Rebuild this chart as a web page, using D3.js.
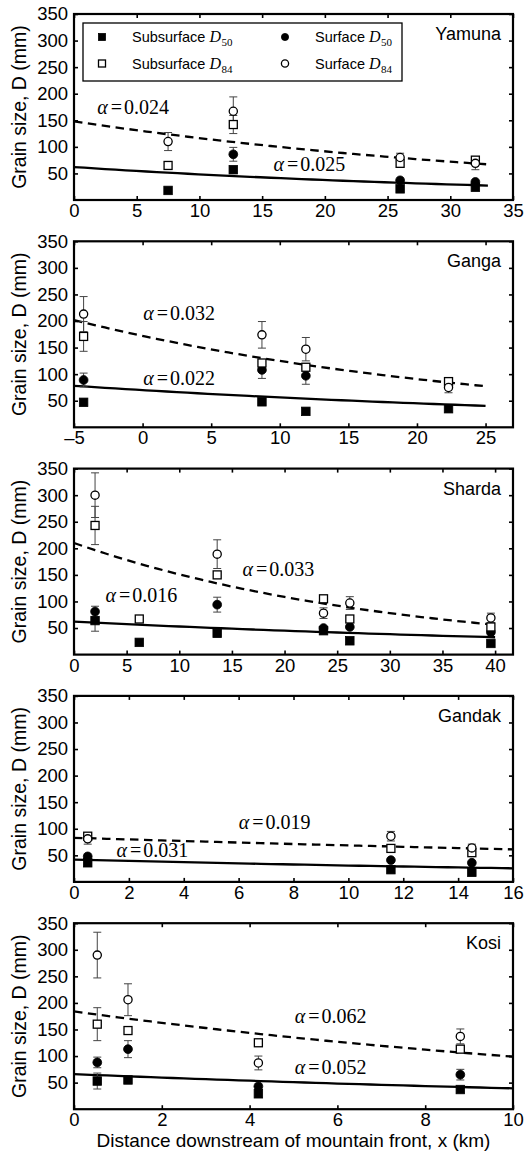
<!DOCTYPE html>
<html>
<head>
<meta charset="utf-8">
<title>Grain size downstream</title>
<script src="https://cdnjs.cloudflare.com/ajax/libs/d3/7.8.5/d3.min.js"></script>
<style>
  body { margin: 0; background: #fff; }
  svg text { font-family: "Liberation Sans", Arial, Helvetica, sans-serif; fill: #000; }
  svg text.math { font-family: "Liberation Serif", "Times New Roman", serif; }
</style>
</head>
<body>
<svg id="chart" width="527" height="1155"></svg>
<script>
// ---- data ----
var rivers = ["Yamuna", "Ganga", "Sharda", "Gandak", "Kosi"];
var xDomains = [[0, 35], [-5, 27], [0, 41.7], [0, 16], [0, 10]];
var xTicks = [
  [0, 5, 10, 15, 20, 25, 30, 35],
  [-5, 0, 5, 10, 15, 20, 25],
  [0, 5, 10, 15, 20, 25, 30, 35, 40],
  [0, 2, 4, 6, 8, 10, 12, 14, 16],
  [0, 2, 4, 6, 8, 10]
];
var yTicks = [50, 100, 150, 200, 250, 300, 350];

// sampling sites, distance from mountain front (km)
var siteX = [
  [7.5, 12.7, 26, 32],
  [-4.3, 8.7, 11.9, 22.3],
  [2, 6.2, 13.6, 23.7, 26.2, 39.6],
  [0.5, 11.55, 14.5],
  [0.53, 1.23, 4.2, 8.8]
];
// grain sizes (mm), null = no sample; *Err = half length of error bar
var subD50 = [
  [18, 57, 21, 24],
  [47, 48, 30, 35],
  [64, 23, 40, 45, 26, 21],
  [36, 23, 18],
  [53, 55, 29, 37]
];
var subD50Err = [
  [0, 0, 0, 0],
  [0, 0, 0, 0],
  [20, 0, 0, 0, 0, 0],
  [0, 0, 0],
  [15, 0, 0, 0]
];
var subD84 = [
  [65, 142, 69, 75],
  [171, 121, 113, 86],
  [243, 67, 150, 105, 67, 52],
  [86, 63, 55],
  [160, 148, 125, 113]
];
var subD84Err = [
  [0, 17, 0, 0],
  [28, 0, 0, 0],
  [36, 0, 0, 0, 0, 0],
  [0, 0, 0],
  [31, 0, 0, 0]
];
var surfD50 = [
  [null, 86, 37, 34],
  [89, 108, 97, null],
  [81, null, 94, 50, 52, 42],
  [48, 41, 36],
  [88, 113, 43, 65]
];
var surfD50Err = [
  [0, 13, 0, 0],
  [13, 16, 16, 0],
  [10, 0, 14, 0, 0, 0],
  [0, 0, 0],
  [10, 16, 0, 10]
];
var surfD84 = [
  [110, 167, 80, 69],
  [213, 174, 147, 75],
  [300, null, 189, 78, 97, 69],
  [81, 86, 64],
  [290, 206, 87, 137]
];
var surfD84Err = [
  [17, 27, 8, 12],
  [33, 25, 22, 10],
  [42, 0, 27, 10, 12, 9],
  [10, 9, 7],
  [43, 30, 13, 14]
];

// exponential fits D = D0 exp(-alpha x)
var fitRange = [[0, 33], [-5, 25], [0, 40], [0, 16], [0, 10]];
var fitD50D0 = [62, 70, 62, 42, 66];
var fitD50Alpha = [0.025, 0.022, 0.016, 0.031, 0.052];
var fitD84D0 = [148, 172, 210, 83, 184];
var fitD84Alpha = [0.024, 0.032, 0.033, 0.019, 0.062];
// where the alpha labels sit (data units: x start, y baseline)
var labelD50At = [[15.9, 55], [0.05, 80], [3.0, 99], [1.55, 46], [5.03, 66]];
var labelD84At = [[1.85, 162], [0.05, 202], [16.0, 148], [6.0, 100], [5.03, 162]];

// ---- layout ----
var svg = d3.select("#chart");
svg.append("rect").attr("width", 527).attr("height", 1155).attr("fill", "#fff");

var left = 74, plotW = 439, plotH = 186;
var top0 = 14, step = 227.3;

function drawSquare(g, cx, cy, s, filled) {
  g.append("rect")
    .attr("x", cx - s / 2).attr("y", cy - s / 2)
    .attr("width", s).attr("height", s)
    .attr("fill", filled ? "#000" : "#fff")
    .attr("stroke", "#000").attr("stroke-width", filled ? 0.8 : 1.3);
}
function drawCircle(g, cx, cy, r, filled) {
  g.append("circle")
    .attr("cx", cx).attr("cy", cy).attr("r", r)
    .attr("fill", filled ? "#000" : "#fff")
    .attr("stroke", "#000").attr("stroke-width", filled ? 0.8 : 1.3);
}

// alpha = value label, LaTeX look
function alphaLabel(g, x, y, val) {
  var t = g.append("text").attr("class", "math")
    .attr("x", x).attr("y", y)
    .style("font-size", "20px");
  t.append("tspan").style("font-style", "italic").text("\u03b1");
  t.append("tspan").attr("dx", 3).text("=");
  t.append("tspan").attr("dx", 2).text(val.toFixed(3));
}

rivers.forEach(function(name, i) {
  var top = top0 + i * step;
  var g = svg.append("g").attr("transform", "translate(" + left + "," + top + ")");

  var x = d3.scaleLinear().domain(xDomains[i]).range([0, plotW]);
  var y = d3.scaleLinear().domain([0, 350]).range([plotH, 0]);

  // fitted curves
  var lineGen = d3.line().x(function(d) { return x(d[0]); }).y(function(d) { return y(d[1]); });
  var r = fitRange[i];
  var xs = d3.range(0, 41).map(function(k) { return r[0] + (r[1] - r[0]) * k / 40; });
  g.append("path")
    .datum(xs.map(function(v) { return [v, fitD50D0[i] * Math.exp(-fitD50Alpha[i] * v)]; }))
    .attr("d", lineGen).attr("fill", "none")
    .attr("stroke", "#000").attr("stroke-width", 2.3);
  g.append("path")
    .datum(xs.map(function(v) { return [v, fitD84D0[i] * Math.exp(-fitD84Alpha[i] * v)]; }))
    .attr("d", lineGen).attr("fill", "none")
    .attr("stroke", "#000").attr("stroke-width", 2.3)
    .attr("stroke-dasharray", "8.5,5.5");

  // error bars
  var series = [
    [subD50[i], subD50Err[i]], [surfD50[i], surfD50Err[i]],
    [subD84[i], subD84Err[i]], [surfD84[i], surfD84Err[i]]
  ];
  series.forEach(function(s) {
    s[0].forEach(function(v, k) {
      var e = s[1][k];
      if (v == null || !e) return;
      var cx = x(siteX[i][k]);
      var y1 = y(v - e), y2 = y(v + e);
      g.append("line").attr("x1", cx).attr("x2", cx).attr("y1", y1).attr("y2", y2)
        .attr("stroke", "#444").attr("stroke-width", 1);
      [y1, y2].forEach(function(yy) {
        g.append("line").attr("x1", cx - 4).attr("x2", cx + 4).attr("y1", yy).attr("y2", yy)
          .attr("stroke", "#444").attr("stroke-width", 1);
      });
    });
  });

  // markers
  siteX[i].forEach(function(sx, k) {
    var cx = x(sx);
    if (subD50[i][k] != null) drawSquare(g, cx, y(subD50[i][k]), 8.5, true);
    if (surfD50[i][k] != null) drawCircle(g, cx, y(surfD50[i][k]), 4.4, true);
    if (subD84[i][k] != null) drawSquare(g, cx, y(subD84[i][k]), 8, false);
    if (surfD84[i][k] != null) drawCircle(g, cx, y(surfD84[i][k]), 4.1, false);
  });

  // alpha labels
  alphaLabel(g, x(labelD84At[i][0]), y(labelD84At[i][1]), fitD84Alpha[i]);
  alphaLabel(g, x(labelD50At[i][0]), y(labelD50At[i][1]), fitD50Alpha[i]);

  // frame with inward ticks on all sides
  g.append("rect").attr("width", plotW).attr("height", plotH)
    .attr("fill", "none").attr("stroke", "#000").attr("stroke-width", 2.2);

  var axB = d3.axisBottom(x).tickValues(xTicks[i]).tickSize(-4).tickPadding(4).tickFormat(d3.format("d"));
  var axT = d3.axisTop(x).tickValues(xTicks[i]).tickSize(-4).tickFormat("");
  var axL = d3.axisLeft(y).tickValues(yTicks).tickSize(-4).tickPadding(6);
  var axR = d3.axisRight(y).tickValues(yTicks).tickSize(-4).tickFormat("");

  [[axB, "translate(0," + plotH + ")"], [axT, null], [axL, null], [axR, "translate(" + plotW + ",0)"]].forEach(function(a) {
    var ag = g.append("g").call(a[0]);
    if (a[1]) ag.attr("transform", a[1]);
    ag.select(".domain").remove();
    ag.selectAll(".tick line").attr("stroke", "#000").attr("stroke-width", 1.6);
    ag.selectAll("text").style("font-size", "18.5px").attr("fill", "#000")
      .style("font-family", "'Liberation Sans', Arial, sans-serif");
  });
  g.selectAll(".tick text").text(function() {
    return this.textContent.replace("\u2212", "\u2013");
  });

  // river name
  g.append("text").attr("x", 427).attr("y", 26).attr("text-anchor", "end")
    .style("font-size", "18px").text(name);

  // y axis title
  svg.append("text")
    .attr("transform", "translate(26," + (top + plotH / 2) + ") rotate(-90)")
    .attr("text-anchor", "middle").style("font-size", "19.5px")
    .text("Grain size, D (mm)");
});

// x axis title
svg.append("text").attr("x", left + plotW / 2).attr("y", 1147)
  .attr("text-anchor", "middle").style("font-size", "19px")
  .text("Distance downstream of mountain front, x (km)");

// ---- legend (first panel) ----
var legendItems = [
  { label: "Subsurface ", sub: "50", shape: "square", filled: true },
  { label: "Surface ", sub: "50", shape: "circle", filled: true },
  { label: "Subsurface ", sub: "84", shape: "square", filled: false },
  { label: "Surface ", sub: "84", shape: "circle", filled: false }
];
var lg = svg.append("g").attr("transform", "translate(83,23)");
lg.append("rect").attr("width", 319).attr("height", 58)
  .attr("fill", "#fff").attr("stroke", "#000").attr("stroke-width", 1.3);
legendItems.forEach(function(it, k) {
  var col = k % 2, row = Math.floor(k / 2);
  var mx = 19 + col * 183, my = 14 + row * 26.5;
  if (it.shape === "square") drawSquare(lg, mx, my, 7, it.filled);
  else drawCircle(lg, mx, my, 3.6, it.filled);
  var t = lg.append("text").attr("x", mx + 30).attr("y", my + 5).style("font-size", "14.5px");
  t.append("tspan").text(it.label);
  t.append("tspan").attr("class", "math")
    .style("font-family", "'Liberation Serif', 'Times New Roman', serif")
    .style("font-style", "italic").style("font-size", "16px").text("D");
  t.append("tspan").attr("dy", 4).attr("dx", 0.5)
    .style("font-family", "'Liberation Serif', 'Times New Roman', serif")
    .style("font-size", "11px").text(it.sub);
});
</script>
</body>
</html>
